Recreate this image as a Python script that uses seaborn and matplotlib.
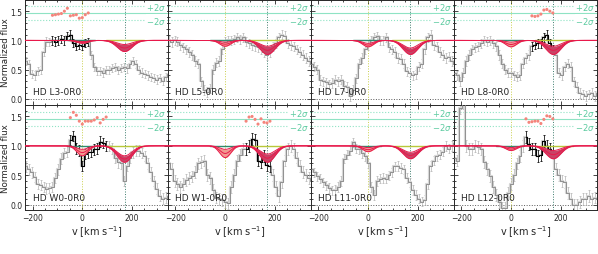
import numpy as np
import matplotlib
matplotlib.use("Agg")
import matplotlib.pyplot as plt
import seaborn as sns
import pandas as pd
from matplotlib.ticker import MultipleLocator

# ---------------- data ----------------
velocity = np.arange(-228, 349, 12)   # bin centres, km/s

labels = ["HD L3-0R0", "HD L5-0R0", "HD L7-0R0", "HD L8-0R0",
          "HD W0-0R0", "HD W1-0R0", "HD L11-0R0", "HD L12-0R0"]

flux_L3 = [0.65, 0.60, 0.42, 0.40, 0.48, 0.50, 0.80, 0.98, 0.97, 1.00, 0.98, 1.00, 1.02,
           1.00, 1.08, 1.10, 0.95, 0.90, 0.92, 0.90, 0.95, 0.97, 0.75, 0.55, 0.48, 0.47,
           0.45, 0.50, 0.50, 0.53, 0.55, 0.50, 0.53, 0.55, 0.52, 0.60, 0.65, 0.60, 0.50,
           0.45, 0.42, 0.40, 0.38, 0.35, 0.33, 0.35, 0.30, 0.38, 0.42]
flux_L5 = [1.00, 0.97, 1.00, 0.98, 0.92, 0.88, 0.85, 0.80, 0.75, 0.65, 0.60, 0.30, 0.15,
           0.12, 0.18, 0.50, 0.62, 0.65, 0.85, 0.98, 1.00, 1.00, 1.02, 1.05, 1.02, 1.05,
           0.98, 0.95, 0.92, 0.90, 0.88, 0.85, 0.80, 0.75, 0.80, 0.90, 0.95, 1.05, 1.10,
           1.08, 0.95, 0.92, 0.90, 0.85, 0.80, 0.75, 0.70, 0.65, 0.60]
flux_L7 = [0.60, 0.55, 0.50, 0.32, 0.30, 0.28, 0.25, 0.27, 0.33, 0.30, 0.33, 0.22, 0.20,
           0.05, 0.15, 0.35, 0.60, 0.70, 0.85, 0.92, 1.00, 1.05, 1.07, 1.00, 1.00, 1.05,
           0.88, 0.85, 0.80, 0.70, 0.68, 0.60, 0.47, 0.45, 0.40, 0.42, 0.55, 0.60, 0.85,
           1.05, 1.10, 0.92, 0.90, 0.80, 0.75, 0.70, 0.72, 0.65, 0.60]
flux_L8 = [0.45, 0.40, 0.30, 0.45, 0.65, 0.75, 0.85, 0.88, 0.90, 0.95, 1.00, 0.98, 1.00,
           0.95, 0.90, 0.75, 0.60, 0.50, 0.45, 0.45, 0.40, 0.38, 0.40, 0.60, 0.70, 0.75,
           0.90, 0.93, 0.95, 0.95, 1.05, 1.10, 0.95, 0.85, 0.75, 0.45, 0.40, 0.55, 0.60,
           0.55, 0.30, 0.20, 0.10, 0.08, 0.05, 0.08, 0.10, 0.05, 0.10]
flux_W0 = [0.65, 0.60, 0.55, 0.47, 0.35, 0.33, 0.30, 0.27, 0.28, 0.30, 0.45, 0.60, 0.78,
           0.88, 0.90, 1.10, 1.17, 0.95, 0.92, 0.66, 0.86, 0.89, 0.90, 0.94, 0.95, 1.07,
           1.05, 1.00, 1.00, 0.95, 0.80, 0.72, 0.70, 0.40, 0.66, 0.80, 0.89, 0.92, 0.92,
           0.88, 0.83, 0.70, 0.55, 0.40, 0.27, 0.15, 0.10, 0.12, 0.15]
flux_W1 = [0.70, 0.60, 0.40, 0.35, 0.30, 0.35, 0.42, 0.45, 0.48, 0.55, 0.70, 0.72, 0.75,
           0.50, 0.45, 0.25, 0.12, 0.10, 0.08, 0.05, 0.02, 0.30, 0.50, 0.75, 0.85, 0.95,
           0.95, 1.00, 1.12, 1.10, 0.75, 0.72, 0.83, 0.68, 0.65, 0.50, 0.30, 0.15, 0.38,
           0.75, 0.95, 1.00, 0.95, 0.80, 0.66, 0.55, 0.50, 0.45, 0.40]
flux_L11 = [0.60, 0.55, 0.48, 0.44, 0.38, 0.33, 0.28, 0.24, 0.25, 0.30, 0.40, 0.78, 0.85,
            0.92, 1.06, 0.95, 0.94, 0.88, 0.83, 0.70, 0.30, 0.16, 0.40, 0.44, 0.45, 0.44,
            0.50, 0.55, 0.65, 0.66, 0.62, 0.60, 0.45, 0.38, 0.25, 0.16, 0.10, 0.05, 0.08,
            0.35, 0.66, 0.75, 0.83, 0.85, 0.90, 1.00, 0.95, 1.00, 1.05]
flux_L12 = [0.80, 0.75, 1.65, 1.72, 1.00, 0.95, 0.94, 1.00, 0.98, 0.95, 0.72, 0.60, 0.49,
            0.30, 0.16, 0.05, -0.05, -0.05, 0.20, 0.35, 0.50, 0.70, 0.83, 1.00, 1.15, 1.03,
            0.95, 0.94, 0.83, 0.85, 1.08, 1.00, 0.94, 0.89, 0.60, 0.50, 0.40, 0.38, 0.20,
            0.10, 0.00, 0.00, 0.05, 0.10, 0.10, 0.15, 0.10, 0.12, 0.10]
fluxes = [flux_L3, flux_L5, flux_L7, flux_L8, flux_W0, flux_W1, flux_L11, flux_L12]
flux_err = [0.07, 0.08, 0.08, 0.08, 0.09, 0.10, 0.08, 0.10]

# fitted windows (km/s) and residuals in them
fit_ranges = [(-120, 24), None, None, (84, 168), (-48, 96), (84, 180), None, (60, 168)]
resid_L3 = [1.43, 1.44, 1.45, 1.46, 1.50, 1.55, 1.42, 1.43, 1.44, 1.38, 1.39, 1.44, 1.47]
resid_L8 = [1.42, 1.41, 1.42, 1.45, 1.52, 1.53, 1.50, 1.47]
resid_W0 = [1.48, 1.57, 1.52, 1.42, 1.37, 1.42, 1.42, 1.42, 1.44, 1.48, 1.39, 1.45, 1.49]
resid_W1 = [1.42, 1.49, 1.50, 1.45, 1.37, 1.46, 1.40, 1.39, 1.42]
resid_L12 = [1.46, 1.40, 1.41, 1.42, 1.42, 1.38, 1.45, 1.51, 1.50, 1.46]
residuals = [resid_L3, None, None, resid_L8, resid_W0, resid_W1, None, resid_L12]
resid_level = [1.465, 1.465, 1.465, 1.465, 1.45, 1.45, 1.45, 1.45]
resid_2sigma = 0.12

# model absorption components: centre, width, depth range per panel
comp_centres = [0, 170]
comp_sigmas = [22, 30]
dep0_lo = [0.02, 0.03, 0.05, 0.03, 0.06, 0.06, 0.03, 0.03]
dep0_hi = [0.05, 0.10, 0.11, 0.11, 0.17, 0.20, 0.10, 0.08]
dep170_lo = [0.07, 0.10, 0.13, 0.10, 0.17, 0.14, 0.11, 0.08]
dep170_hi = [0.19, 0.24, 0.24, 0.24, 0.28, 0.28, 0.22, 0.22]

# ---------------- style ----------------
sns.set_style("ticks")
plt.rcParams["font.family"] = ["DejaVu Sans"]

RED = "#e8194b"
FILL0 = "#f29a90"
FILL1 = "#c84466"
AQUA = "#8fe3c4"
AQUA_TXT = "#5ccba0"

fig, axes = plt.subplots(2, 4, figsize=(5.98, 2.55), dpi=100, sharex=True)
fig.subplots_adjust(left=0.042, right=0.998, top=0.998, bottom=0.173,
                    wspace=0, hspace=0)

vfine = np.linspace(-240, 360, 601)

for i, ax in enumerate(axes.flat):
    row = i // 4
    flux = np.array(fluxes[i])
    df = pd.DataFrame({"v": velocity, "f": flux})

    # guide lines
    ax.axhline(0, color="0.35", ls=":", lw=0.7, zorder=1)
    ax.axvline(comp_centres[0], color="#c9cf4a", ls=":", lw=0.7, zorder=1)
    ax.axvline(comp_centres[1], color="#3a7a6a", ls=":", lw=0.7, zorder=1)

    # spectrum
    ax.errorbar(velocity, flux, yerr=flux_err[i], fmt="none", ecolor="0.7",
                elinewidth=0.5, capsize=0.8, capthick=0.5, zorder=2)
    sns.lineplot(data=df, x="v", y="f", ax=ax, color="#d6d6d6", lw=1.6,
                 drawstyle="steps-mid", zorder=2, estimator=None)
    sns.lineplot(data=df, x="v", y="f", ax=ax, color="#858585", lw=0.6,
                 drawstyle="steps-mid", zorder=3, estimator=None)

    # fitted window in black
    if fit_ranges[i] is not None:
        lo, hi = fit_ranges[i]
        sel = (velocity >= lo) & (velocity <= hi)
        dsel = df[sel]
        ax.errorbar(dsel["v"], dsel["f"], yerr=flux_err[i], fmt="none",
                    ecolor="black", elinewidth=0.5, capsize=0.8, capthick=0.5, zorder=4)
        sns.lineplot(data=dsel, x="v", y="f", ax=ax, color="black", lw=0.8,
                     drawstyle="steps-mid", zorder=4, estimator=None)
        rdf = pd.DataFrame({"v": velocity[sel], "r": residuals[i]})
        sns.scatterplot(data=rdf, x="v", y="r", ax=ax, color="#f4857c", s=5,
                        edgecolor="none", zorder=6)

    # residual reference lines
    lvl = resid_level[i]
    ax.axhline(lvl, color=AQUA, lw=0.8, zorder=1)
    ax.axhline(lvl + resid_2sigma, color=AQUA, ls=":", lw=0.8, zorder=1)
    ax.axhline(lvl - resid_2sigma, color=AQUA, ls=":", lw=0.8, zorder=1)
    ax.text(338, lvl + resid_2sigma, r"$+2\sigma$", ha="right", va="center",
            color=AQUA_TXT, fontsize=6, zorder=2,
            bbox=dict(facecolor="white", edgecolor="none", pad=0.3))
    ax.text(338, lvl - resid_2sigma, r"$-2\sigma$", ha="right", va="center",
            color=AQUA_TXT, fontsize=6, zorder=2,
            bbox=dict(facecolor="white", edgecolor="none", pad=0.3))

    # other components (flat)
    ax.plot([-60, 50], [1, 1], color="#2f8a6c", lw=1.0, zorder=5)
    ax.plot([95, 250], [1, 1], color="#b8c83a", lw=1.0, zorder=5)

    # model profiles
    g0 = np.exp(-0.5 * ((vfine - comp_centres[0]) / comp_sigmas[0]) ** 2)
    g1 = np.exp(-0.5 * ((vfine - comp_centres[1]) / comp_sigmas[1]) ** 2)
    upper = 1 - dep0_lo[i] * g0 - dep170_lo[i] * g1
    lower = 1 - dep0_hi[i] * g0 - dep170_hi[i] * g1
    mid = 0.5 * (upper + lower)
    left = vfine < 85
    ax.fill_between(vfine, lower, upper, where=left, color=FILL0, lw=0, zorder=6)
    ax.fill_between(vfine, lower, upper, where=~left, color=FILL1, lw=0, zorder=6)
    for curve in (upper, mid, lower):
        ax.plot(vfine, curve, color=RED, lw=0.7, zorder=7)

    # label
    ax.text(-200, 0.05, labels[i], fontsize=6.5, ha="left", va="bottom", zorder=8)

    # axes formatting
    ax.set_xlim(-230, 345)
    ax.set_ylim(-0.1 if row == 0 else -0.09, 1.70)
    ax.xaxis.set_major_locator(MultipleLocator(200))
    ax.xaxis.set_minor_locator(MultipleLocator(50))
    ax.yaxis.set_major_locator(MultipleLocator(0.5))
    ax.yaxis.set_minor_locator(MultipleLocator(0.1))
    ax.tick_params(which="both", direction="in", top=True, right=True,
                   labelsize=5.5, width=0.6, pad=2)
    ax.tick_params(which="major", length=3)
    ax.tick_params(which="minor", length=1.6)
    for sp in ax.spines.values():
        sp.set_linewidth(0.7)
    ax.set_xlabel("")
    ax.set_ylabel("")
    if i % 4 == 0:
        ax.set_ylabel("Normalized flux", fontsize=6.3, labelpad=0.5)
    else:
        ax.tick_params(labelleft=False)
    if row == 1:
        ax.set_xlabel(r"v [km s$^{-1}$]", fontsize=7, labelpad=1)
    else:
        ax.tick_params(labelbottom=False)

fig.savefig("out.png", dpi=100)
